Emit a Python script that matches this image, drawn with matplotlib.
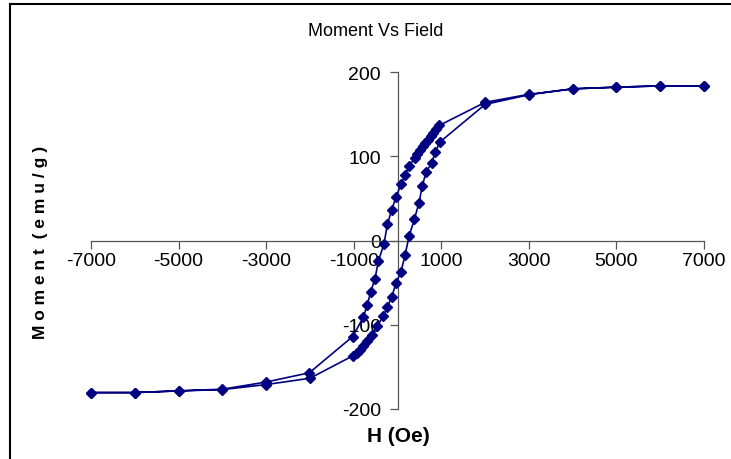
import matplotlib
matplotlib.use('Agg')
import matplotlib.pyplot as plt
from matplotlib.lines import Line2D

# descending field branch (from +7000 to -7000)
h_down = [7000, 6000, 5000, 4000, 3000, 2000, 955, 879, 818, 757, 704, 635, 575,
          514, 452, 400, 270, 178, 80, -34, -133, -232, -308, -438, -514, -612,
          -689, -780, -1023, -2014, -3000, -4000, -5000, -6000, -7000]
m_down = [183.5, 183.5, 182, 180, 173.5, 164, 136.6, 132, 128, 123.5, 119.6, 116, 112,
          108, 103, 98, 89, 78, 67, 51.5, 36.5, 19, -3.9, -24.5, -45.5, -61,
          -76, -91, -114, -157, -168, -176.5, -178.5, -180.5, -180.5]

# ascending field branch (from -7000 to +7000)
h_up = [-7000, -6000, -5000, -4000, -3000, -2000, -1009, -932, -856, -780, -689, -589,
        -461, -324, -232, -133, -34, 80, 171, 263, 384, 491, 567, 651, 781, 863, 970,
        2000, 3000, 4000, 5000, 6000, 7000]
m_up = [-180.5, -180.5, -178.5, -177, -171, -163.5, -136.6, -133, -129.5, -125, -119, -112,
        -101, -90, -79, -67, -50.6, -36.8, -17.8, 4.8, 25, 44.8, 65, 81, 92, 105, 117,
        161.5, 173, 180, 182, 183.5, 183.5]

x_ticks = [-7000, -5000, -3000, -1000, 1000, 3000, 5000, 7000]
y_ticks = [-200, -100, 0, 100, 200]

plt.rcParams['font.family'] = ['Liberation Sans', 'DejaVu Sans']

fig = plt.figure(figsize=(7.31, 4.6), dpi=100)
ax = fig.add_axes([91 / 731, 50 / 460, 613 / 731, 337 / 460])

ax.plot(h_down + h_up, m_down + m_up, color='#000080', lw=1.2, marker='D',
        ms=5, zorder=3, clip_on=False)

ax.set_xlim(-7000, 7000)
ax.set_ylim(-200, 200)
ax.set_xticks(x_ticks)
ax.set_yticks(y_ticks)
ax.set_xticklabels([str(v) for v in x_ticks])
ax.set_yticklabels([str(v) for v in y_ticks])

for s in ['top', 'right']:
    ax.spines[s].set_visible(False)
ax.spines['left'].set_position(('data', 0))
ax.spines['bottom'].set_position(('data', 0))
for s in ['left', 'bottom']:
    ax.spines[s].set_color('#555555')
    ax.spines[s].set_linewidth(0.9)
ax.tick_params(axis='both', direction='out', length=6, width=0.9, color='#555555',
               labelsize=14)
ax.tick_params(axis='x', pad=2)
ax.tick_params(axis='y', pad=6)

fig.text(376 / 731, 1 - 32 / 460, 'Moment Vs Field', ha='center', va='center',
         fontsize=13)
fig.text(398 / 731, 1 - 437 / 460, 'H (Oe)', ha='center', va='center',
         fontsize=15, fontweight='bold')
fig.text(41 / 731, 1 - 242 / 460, 'M o m e n t  ( e m u / g )', ha='center',
         va='center', rotation=90, fontsize=12.5, fontweight='bold')

# chart frame (only top and left edges are visible in the crop)
fig.add_artist(Line2D([10 / 731, 10 / 731], [0, 1 - 5 / 460], color='black', lw=1.5))
fig.add_artist(Line2D([10 / 731, 1], [1 - 5 / 460, 1 - 5 / 460], color='black', lw=1.5))

fig.savefig('out.png', dpi=100)
